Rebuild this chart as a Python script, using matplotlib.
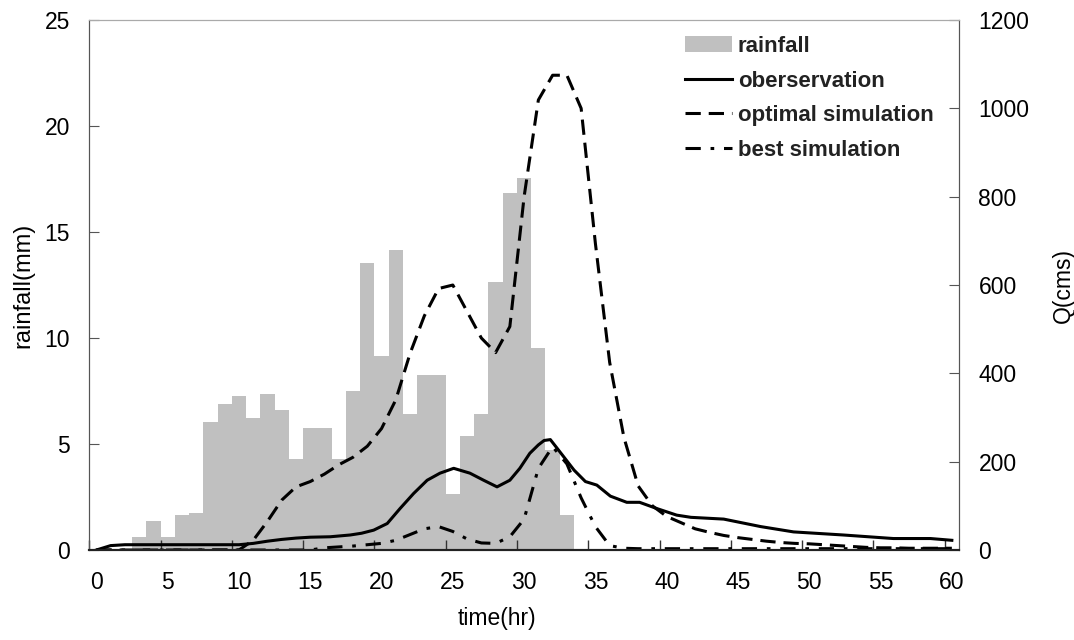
import matplotlib
matplotlib.use("Agg")
import matplotlib.pyplot as plt
from matplotlib.patches import Patch
from matplotlib.lines import Line2D

plt.rcParams["font.family"] = ["Liberation Sans", "DejaVu Sans"]

# ==========================
# Data
# ==========================
rain_hours = list(range(3, 34))
rainfall = [0.63, 1.38, 0.63, 1.65, 1.76, 6.04, 6.89, 7.26, 6.24, 7.36,
            6.6, 4.29, 5.77, 5.77, 4.29, 7.51, 13.54, 9.15, 14.15, 6.42,
            8.25, 8.25, 2.64, 5.38, 6.42, 12.66, 16.83, 17.56, 9.54, 4.72,
            1.65]

obs_hours = [0, 1, 2, 4, 6, 8, 10, 11, 12, 13, 14, 15, 16.4, 17.8, 18.6,
             19.45, 20.4, 21.3, 22.25, 23.2, 24.1, 25.06, 26.2, 27.16, 28.1,
             29.0, 29.7, 30.4, 31.0, 31.4, 31.84, 32.3, 33.5, 34.3, 35.1,
             36.05, 37.2, 38.1, 39.3, 40.7, 41.7, 44.0, 46.6, 48.9, 52.4,
             55.9, 58.5, 60]
observation = [0, 10, 12, 12, 12, 12, 12, 15, 20, 24, 27, 29, 30, 34, 38,
               45, 60, 94, 128, 158, 174, 185, 174, 158, 143,
               158, 185, 219, 238, 248, 250, 231, 181, 155, 147,
               122, 108, 108, 94, 79, 74, 70, 53, 41, 34,
               26, 26, 22]

q_hours = list(range(0, 61))
optimal = [0, 0, 0, 0, 0, 0, 0, 0, 0, 0,
           0, 22, 65, 113, 143, 155, 172, 193, 210, 235,
           275, 340, 445, 530, 592, 600, 540, 480, 447, 506,
           800, 1019, 1075, 1075, 1000, 694, 425, 255, 145, 100,
           76, 62, 48, 40, 33, 28, 24, 20, 17, 15,
           14, 12, 10, 8, 6, 5, 5, 4, 4, 4,
           4]
best = [0, 0, 0, 0, 0, 0, 0, 0, 0, 0,
        0, 0, 0, 0, 0, 0, 5, 7, 9, 12,
        15, 22, 35, 48, 53, 42, 25, 16, 15, 30,
        70, 185, 234, 195, 118, 53, 10, 4, 3, 3,
        3, 3, 3, 3, 3, 3, 3, 3, 3, 3,
        3, 3, 3, 3, 3, 3, 3, 3, 3, 3,
        3]

dash_opt = (5, 2.6)
dash_best = (5, 3.2, 1.2, 3.2)

# ==========================
# Figure
# ==========================
fig = plt.figure(figsize=(10.74, 6.4), dpi=100)
ax = fig.add_axes([0.0831, 0.1406, 0.8098, 0.8281])
ax2 = ax.twinx()

ax.bar(rain_hours, rainfall, width=1.0, color="#c0c0c0", edgecolor="none")

ax2.plot(obs_hours, observation, color="black", lw=2.2)
ax2.plot(q_hours, optimal, color="black", lw=2.2, dashes=dash_opt)
ax2.plot(q_hours, best, color="black", lw=2.2, dashes=dash_best)

ax.set_xlim(-0.5, 60.5)
ax.set_ylim(0, 25)
ax2.set_ylim(0, 1200)

ax.set_xticks(range(0, 61, 5))
ax.set_xticks([x + 0.5 for x in range(-1, 60, 5)], minor=True)
ax.tick_params(axis="x", which="major", length=0, labelsize=16.5, pad=15)
ax.tick_params(axis="x", which="minor", direction="in", length=7,
               width=1, color="#333333")
ax.set_yticks(range(0, 26, 5))
ax.tick_params(axis="y", direction="in", length=7, labelsize=16.5, pad=14,
               color="#555555")
ax2.set_yticks(range(0, 1201, 200))
ax2.tick_params(axis="y", direction="in", length=7, labelsize=16.5, pad=14,
                color="#555555")

ax.set_xlabel("time(hr)", fontsize=16.5)
ax.xaxis.set_label_coords(0.469, -0.108)
ax.set_ylabel("rainfall(mm)", fontsize=17, labelpad=7)
ax2.set_ylabel("Q(cms)", fontsize=16.5, labelpad=16)

for a in (ax, ax2):
    a.spines["top"].set_color("#aaaaaa")
    a.spines["left"].set_color("#555555")
    a.spines["right"].set_color("#555555")
    a.spines["bottom"].set_color("#222222")
    a.spines["bottom"].set_linewidth(1.5)

# ==========================
# Legend
# ==========================
handles = [
    Patch(facecolor="#c0c0c0", edgecolor="none"),
    Line2D([], [], color="black", lw=2.2),
    Line2D([], [], color="black", lw=2.2, dashes=dash_opt),
    Line2D([], [], color="black", lw=2.2, dashes=dash_best),
]
labels = ["rainfall", "oberservation", "optimal simulation", "best simulation"]
leg = ax2.legend(handles, labels, loc="upper left",
                 bbox_to_anchor=(685 / 1074, 1 - 36 / 640),
                 bbox_transform=fig.transFigure, frameon=False,
                 borderpad=0, borderaxespad=0, handlelength=2.1,
                 handletextpad=0.27, labelspacing=0.61,
                 prop={"size": 16, "weight": "bold"})
for t in leg.get_texts():
    t.set_color("#222222")

fig.savefig("out.png", dpi=100)
plt.close(fig)
